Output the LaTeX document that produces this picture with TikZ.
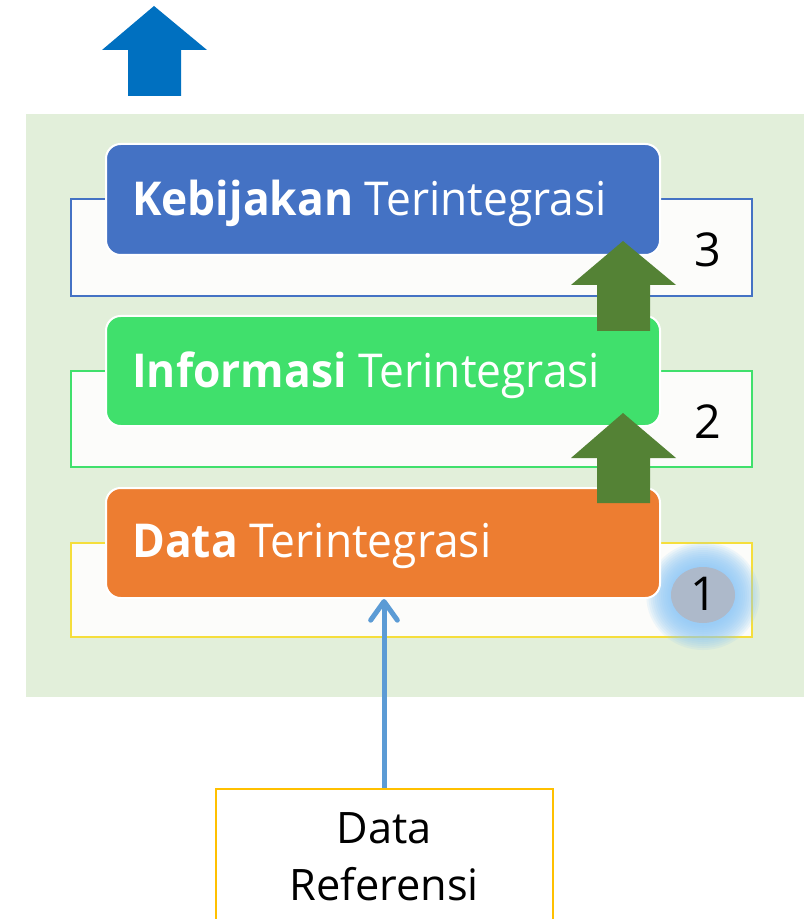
\documentclass[tikz,border=0pt]{standalone}
\usepackage{fontspec}
\setmainfont{Open Sans}
\newfontfamily\layerfont[FakeStretch=0.95]{Open Sans}
\usetikzlibrary{arrows.meta,shapes.geometric}

\definecolor{bggreen}{HTML}{E2EFDA}
\definecolor{layerblue}{HTML}{4472C4}
\definecolor{layergreen}{HTML}{40E06C}
\definecolor{layerorange}{HTML}{ED7D31}
\definecolor{layeryellow}{HTML}{F5DE3C}
\definecolor{arrowgreen}{HTML}{548235}
\definecolor{arrowblue}{HTML}{0070C0}
\definecolor{refblue}{HTML}{5B9BD5}
\definecolor{refyellow}{HTML}{FFC000}
\definecolor{paper}{HTML}{FCFCFA}
\definecolor{badge}{HTML}{ADB9CA}
\definecolor{glow}{HTML}{8CC8F6}

\tikzset{
  outerbox/.style={draw=#1, line width=1.5pt, fill=paper, inner sep=0pt,
    minimum width=510.75pt, minimum height=72pt},
  layerbox/.style={draw=white, line width=1.5pt, fill=#1, rounded corners=11pt,
    inner sep=0pt, minimum width=415.5pt, minimum height=82.5pt},
  layertext/.style={anchor=base west, text=white, inner sep=0pt,
    font=\layerfont\fontsize{35}{40}\selectfont},
  numtext/.style={anchor=base, inner sep=0pt, font=\fontsize{35}{40}\selectfont},
  reftext/.style={anchor=base, inner sep=0pt, font=\fontsize{32.5}{40}\selectfont},
  refarrow/.style={draw=refblue, line width=3.75pt,
    -{Straight Barb[length=14pt,width=20pt,round]}},
}

\begin{document}
\begin{tikzpicture}[x=0.75pt,y=-0.75pt]
  \clip (0,0) rectangle (804,919);
  \fill[white] (0,0) rectangle (804,919);

  % upward arrow above the stack
  \fill[arrowblue] (154,6) -- (207,50) -- (181,50) -- (181,96) -- (128,96)
    -- (128,50) -- (102,50) -- cycle;

  % background panel
  \fill[bggreen] (26,114) rectangle (804,697);

  % back plates of the three layers
  \node[outerbox=layerblue, minimum height=72.75pt] (outer3) at (411.5,247.5) {};
  \node[outerbox=layergreen] (outer2) at (411.5,419) {};
  \node[outerbox=layeryellow, minimum height=70.5pt] (outer1) at (411.5,590) {};

  % soft glow behind the first badge
  \foreach \r in {54,52,...,30}{
    \fill[glow, opacity=0.13] (703,596) ellipse ({\r*1.05} and {\r});
  }

  % layer headers
  \node[layerbox=layerblue, minimum height=83.25pt] (inner3) at (383,199.5) {};
  \node[layerbox=layergreen] (inner2) at (383,371) {};
  \node[layerbox=layerorange] (inner1) at (383,543) {};

  \node[layertext] (t3) at (132,216) {\textbf{Kebijakan} Terintegrasi};
  \node[layertext] (t2) at (132,387) {\textbf{Informasi} Terintegrasi};
  \node[layertext] (t1) at (132,557) {\textbf{Data} Terintegrasi};

  % level numbers
  \node[numtext] (n3) at (708,267) {3};
  \node[numtext] (n2) at (708,438) {2};
  \node[ellipse, fill=badge, minimum width=48pt, minimum height=42pt, inner sep=0pt]
    (b1) at (703,595) {};
  \node[numtext] (n1) at (704,610) {1};

  % green arrows between layers
  \fill[arrowgreen] (623,241) -- (676,285) -- (650,285) -- (650,331) -- (597,331)
    -- (597,285) -- (571,285) -- cycle;
  \fill[arrowgreen] (623,413) -- (676,458) -- (650,458) -- (650,503) -- (597,503)
    -- (597,458) -- (571,458) -- cycle;

  % reference data source
  \node[draw=refyellow, line width=1.5pt, fill=white, inner sep=0pt,
    minimum width=252.75pt, minimum height=120pt, anchor=north] (ref) at (384,788) {};
  \node[reftext] (r1) at (384,843) {Data};
  \node[reftext] (r2) at (384,900) {Referensi};

  \draw[refarrow] (ref.north) -- (inner1.south -| ref.north);
\end{tikzpicture}
\end{document}
